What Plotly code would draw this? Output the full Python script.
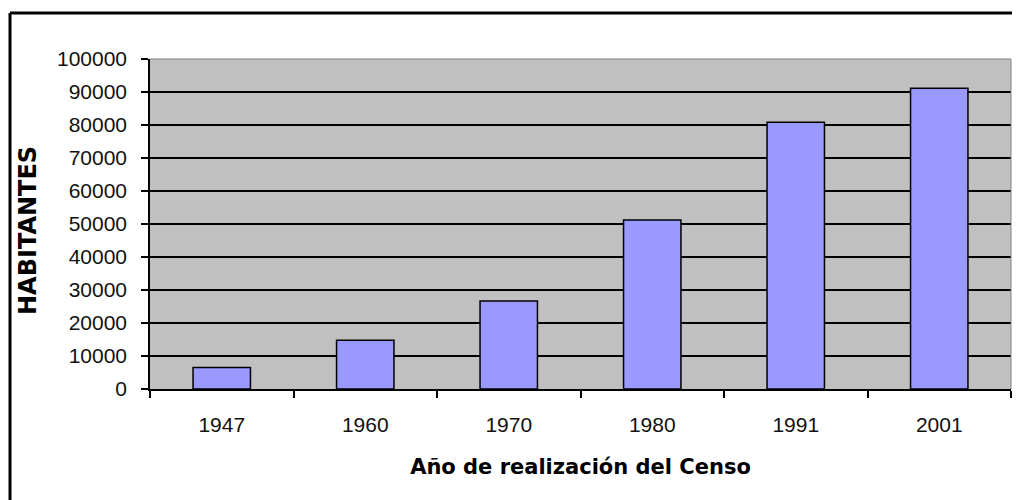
import plotly.graph_objects as go

years = ["1947", "1960", "1970", "1980", "1991", "2001"]
habitantes = [6500, 14750, 26700, 51200, 80800, 91100]
y_ticks = [0, 10000, 20000, 30000, 40000, 50000, 60000, 70000, 80000, 90000, 100000]

# the page body adds an 8px offset; the figure is sized to compensate
OFF = 8
W, H = 1012, 492
L, R, T, B = 142, 9, 51, 111
pw = W - L - R
ph = H - T - B


def px(xs):
    return (xs - OFF - L) / pw


def py(ys):
    return (H - B - (ys - OFF)) / ph


fig = go.Figure()
fig.add_trace(go.Bar(
    x=years, y=habitantes,
    marker=dict(color="#9999FF", line=dict(color="#000000", width=1.5)),
    hoverinfo="x+y",
))

font = "Liberation Sans, Arial, sans-serif"
tfont = "DejaVu Sans, Verdana, sans-serif"

fig.update_layout(
    width=W, height=H,
    margin=dict(l=L, r=R, t=T, b=B, autoexpand=False),
    paper_bgcolor="#FFFFFF",
    plot_bgcolor="#C0C0C0",
    bargap=0.6,
    showlegend=False,
    font=dict(family=font, color="#000000", size=21),
    xaxis=dict(
        type="category",
        showgrid=False,
        showline=True, linecolor="#000000", linewidth=1.5,
        ticks="outside", tickson="boundaries", ticklen=7, tickcolor="#000000", tickwidth=1.5,
        tickfont=dict(size=21, family=font, color="#111111"),
        ticklabelstandoff=16,
        title=dict(text="<b>Año de realización del Censo</b>", font=dict(size=21, family=tfont), standoff=24),
    ),
    yaxis=dict(
        range=[0, 100000],
        tickvals=y_ticks,
        ticktext=[str(v) for v in y_ticks],
        showgrid=True, gridcolor="#000000", gridwidth=1.5,
        showline=True, linecolor="#000000", linewidth=1.5,
        ticks="outside", ticklen=7, tickcolor="#000000", tickwidth=1.5,
        tickfont=dict(size=21, family=font, color="#111111"),
        ticklabelstandoff=10,
        zeroline=False,
    ),
    annotations=[
        dict(text="<b>HABITANTES</b>", textangle=-90, showarrow=False,
             xref="paper", yref="paper", x=px(28), y=py(231),
             xanchor="center", yanchor="middle",
             font=dict(size=24, family=tfont, color="#000000")),
    ],
    shapes=[
        # outer chart border (left and top visible)
        dict(type="line", xref="paper", yref="paper",
             x0=px(10), x1=px(1040), y0=py(13), y1=py(13),
             line=dict(color="#000000", width=3)),
        dict(type="line", xref="paper", yref="paper",
             x0=px(10), x1=px(10), y0=py(13), y1=py(520),
             line=dict(color="#000000", width=3)),
        # plot area border top/right
        dict(type="line", xref="paper", yref="paper", x0=0, x1=1, y0=1, y1=1,
             line=dict(color="#808080", width=1)),
        dict(type="line", xref="paper", yref="paper", x0=1, x1=1, y0=0, y1=1,
             line=dict(color="#808080", width=1)),
    ],
)

fig.write_html("out.html")
